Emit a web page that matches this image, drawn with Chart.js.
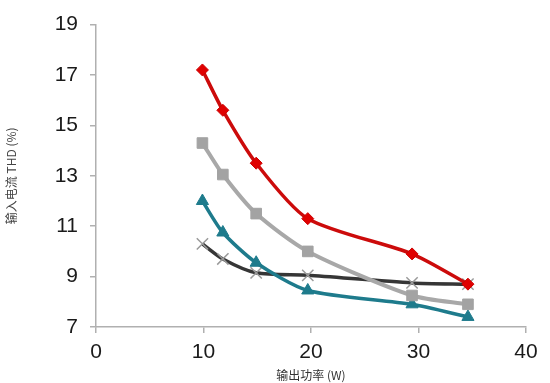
<!DOCTYPE html>
<html>
<head>
<meta charset="utf-8">
<script src="https://cdn.jsdelivr.net/npm/chart.js@4/dist/chart.umd.min.js"></script>
<style>
html,body{margin:0;padding:0;background:#fff;}
#wrap{width:550px;height:383px;position:relative;}
</style>
</head>
<body>
<div id="wrap"><canvas id="c" width="550" height="383"></canvas></div>
<script>
const xPower = [9.9, 11.8, 14.9, 19.7, 29.4, 34.6];
const redThd = [17.2, 15.6, 13.5, 11.3, 9.9, 8.7];
const grayThd = [14.3, 13.05, 11.5, 10.0, 8.25, 7.9];
const tealThd = [12.0, 10.75, 9.55, 8.45, 7.9, 7.4];
const blackThd = [10.3, 9.7, 9.15, 9.05, 8.75, 8.7];
const yTicks = [7, 9, 11, 13, 15, 17, 19];
const xTicks = [0, 10, 20, 30, 40];
const xTitle = '输出功率 (W)';
const yTitle = '输入电流 THD (%)';

const pts = (ys) => xPower.map((x, i) => ({x: x, y: ys[i]}));
const common = {showLine: true, tension: 0.25};

new Chart(document.getElementById('c'), {
  type: 'scatter',
  data: {
    datasets: [
      Object.assign({data: pts(redThd), borderColor: '#cc0b0b', backgroundColor: '#e00000',
       borderWidth: 3.5, pointStyle: 'rectRot', pointRadius: 6, pointBorderColor: '#cc0000', pointBorderWidth: 1}, common),
      Object.assign({data: pts(grayThd), borderColor: '#a8a8a8', backgroundColor: '#a3a3a3',
       borderWidth: 4, pointStyle: 'rect', pointRadius: 7.5, pointBorderColor: '#a3a3a3', pointBorderWidth: 1}, common),
      Object.assign({data: pts(tealThd), borderColor: '#1e7b8c', backgroundColor: '#1e7b8c',
       borderWidth: 3.5, pointStyle: 'triangle', pointRadius: 7, pointBorderColor: '#1e7b8c', pointBorderWidth: 1}, common),
      Object.assign({data: pts(blackThd), borderColor: '#363636', backgroundColor: 'rgba(0,0,0,0)',
       borderWidth: 3.5, pointStyle: 'crossRot', pointRadius: 8, pointBorderColor: '#9a9a9a', pointBorderWidth: 1.5}, common)
    ]
  },
  options: {
    responsive: false,
    animation: false,
    devicePixelRatio: 1,
    layout: {padding: {top: 19, right: 24, left: 0, bottom: 0}},
    plugins: {legend: {display: false}, tooltip: {enabled: false}},
    scales: {
      x: {
        type: 'linear', min: 0, max: 40,
        afterBuildTicks: (s) => { s.ticks = xTicks.map(v => ({value: v})); },
        afterFit: (s) => { s.height = 56; },
        border: {color: '#b0b0b0', width: 1.5},
        grid: {display: true, drawOnChartArea: false, drawTicks: true, tickLength: 6, color: '#b0b0b0', lineWidth: 1.5},
        ticks: {color: '#1a1a1a', font: {family: 'Liberation Sans', size: 21}, padding: 7, maxRotation: 0},
        title: {display: true, text: xTitle, color: '#333', font: {family: 'Noto Sans CJK SC', size: 12}, padding: {top: 0, bottom: 0}}
      },
      y: {
        type: 'linear', min: 7, max: 19,
        afterBuildTicks: (s) => { s.ticks = yTicks.map(v => ({value: v})); },
        afterFit: (s) => { s.width = 96; },
        border: {color: '#b0b0b0', width: 1.5},
        grid: {display: true, drawOnChartArea: false, drawTicks: true, tickLength: 6, color: '#b0b0b0', lineWidth: 1.5},
        ticks: {color: '#1a1a1a', font: {family: 'Liberation Sans', size: 21}, padding: 12},
        title: {display: true, text: yTitle, color: '#444', font: {family: 'Noto Sans CJK SC', size: 12}, padding: {top: 4, bottom: 0}}
      }
    }
  }
});
</script>
</body>
</html>
